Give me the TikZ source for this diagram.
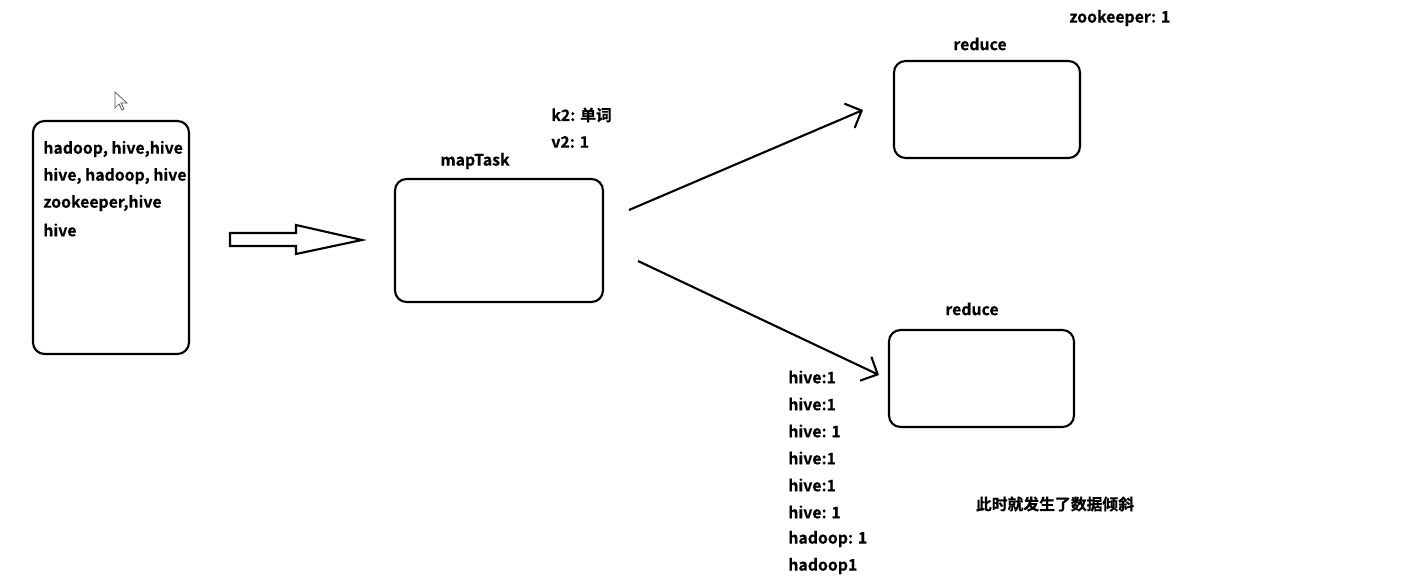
\documentclass[tikz,border=0pt]{standalone}
\usepackage{fontspec}
\setmainfont{Noto Sans CJK SC}[BoldFont={Noto Sans CJK SC Bold},BoldFeatures={FakeBold=0.5}]
\usepackage{tikz}
\usetikzlibrary{arrows.meta}
\tikzset{
  >={Straight Barb[length=7.5pt,width=15pt,line width=1.2pt]},
}
\tikzstyle{box}=[draw,line width=1.2pt,rounded corners=6.5pt,inner sep=0pt,outer sep=0pt]
\tikzstyle{flow}=[line width=1.2pt,->]
\tikzstyle{every node}=[font=\fontsize{9}{11}\selectfont\bfseries]
\tikzstyle{txt}=[anchor=west,inner sep=0pt]

\begin{document}
\begin{tikzpicture}[x=0.02cm,y=-0.02cm]
    \useasboundingbox (0,0) rectangle (1406,577);
    % input file
    \node[box,minimum width=3.12cm,minimum height=4.66cm] (src) at (111,237.5) {};
    \node[txt] (l1) at (43,149) {hadoop, hive,hive};
    \node[txt] (l2) at (43,176) {hive, hadoop, hive};
    \node[txt] (l3) at (43,203) {zookeeper,hive};
    \node[txt] (l4) at (43,230) {hive};
    % mouse pointer
    \draw[line width=0.4pt,gray!70!black] (115,92) -- (115,108) -- (119,104) -- (122,110)
      -- (124,109) -- (121,103) -- (127,103) -- cycle;
    % block arrow
    \draw[line width=1.2pt] (230,233) -- (296,233) -- (296,225) -- (362,240)
      -- (296,254) -- (296,246) -- (230,246) -- cycle;
    % map
    \node[box,minimum width=4.16cm,minimum height=2.46cm] (map) at (499,240.5) {};
    \node (mapLabel) at (475,161) {mapTask};
    \node[txt] (k2) at (551,115) {k2: 单词};
    \node[txt] (v2) at (551,142) {v2: 1};
    % reducers
    \node[box,minimum width=3.72cm,minimum height=1.94cm] (red1) at (987,109.5) {};
    \node (red1Label) at (980,44) {reduce};
    \node[txt] (zk) at (1069,18) {zookeeper: 1};
    \node[box,minimum width=3.70cm,minimum height=1.94cm] (red2) at (981.5,378.5) {};
    \node (red2Label) at (972,309) {reduce};
    % shuffle
    \coordinate (s1) at (629,210);
    \coordinate (e1) at (863,110);
    \coordinate (s2) at (638,261);
    \coordinate (e2) at (879,375);
    \draw[flow] (s1) -- (e1);
    \draw[flow] (s2) -- (e2);
    % keys sent to the second reduce
    \foreach \t [count=\i] in {hive:1,hive:1,hive: 1,hive:1,hive:1,hive: 1,hadoop: 1,hadoop1}
      \node[txt] (c\i) at (788,350+27*\i) {\t};
    \node (skew) at (1055,504) {此时就发生了数据倾斜};
\end{tikzpicture}
\end{document}
